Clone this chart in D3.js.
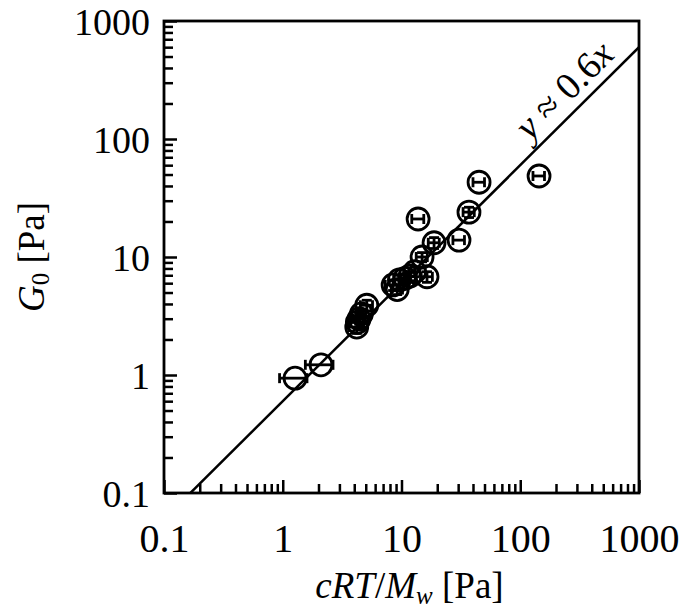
<!DOCTYPE html>
<html>
<head>
<meta charset="utf-8">
<script src="https://cdn.jsdelivr.net/npm/d3@7"></script>
<style>
  body { margin: 0; background: #fff; }
  text { font-family: "Liberation Serif", "Times New Roman", serif; fill: #000; }
</style>
</head>
<body>
<div id="chart"></div>
<script>
var margin = {top: 21, right: 41, bottom: 120, left: 164},
    width = 680 - margin.left - margin.right,
    height = 613 - margin.top - margin.bottom;

// data (Pa)
var xVals = [1.27, 2.1, 4.2, 4.25, 4.4, 4.6, 5.1, 8.5, 9.2, 9.6, 10.7, 11.8, 12.9, 14.9, 16.4, 13.8, 18.8, 30.5, 37, 45, 144];
var yVals = [0.94, 1.22, 2.55, 2.8, 3.0, 3.3, 3.9, 5.8, 5.3, 6.4, 6.6, 6.9, 7.5, 10, 6.8, 21, 13.2, 13.9, 24, 43, 48.6];
var xErr  = [0.33, 0.55, 0.6, 0.5, 0.5, 0.4, 0.6, 1.2, 1.0, 1.0, 1.2, 1.3, 1.4, 1.6, 1.8, 1.6, 2.0, 3.4, 4.0, 5.0, 16];
var yErr  = [0, 0, 0.3, 0.3, 0.3, 0.3, 0.4, 0.6, 0.5, 0.6, 0.6, 0.6, 0.7, 0.9, 0.7, 0, 1.4, 0, 2.4, 0, 0];
var xTicks = [0.1, 1, 10, 100, 1000];
var yTicks = [0.1, 1, 10, 100, 1000];
var slope = 0.6;

var svg = d3.select('#chart').append('svg')
    .attr('width', 680)
    .attr('height', 613);

var g = svg.append('g')
    .attr('transform', 'translate(' + margin.left + ',' + margin.top + ')');

var x = d3.scaleLog().domain([0.1, 1000]).range([0, width]);
var y = d3.scaleLog().domain([0.1, 1000]).range([height, 0]);

// minor ticks 2..9 for each decade
function minors(dom) {
  var out = [];
  for (var e = Math.log10(dom[0]); e < Math.log10(dom[1]); e++) {
    for (var m = 2; m <= 9; m++) out.push(m * Math.pow(10, e));
  }
  return out;
}

g.append('defs').append('clipPath').attr('id', 'clip')
  .append('rect').attr('width', width).attr('height', height);

// fit line y = 0.6 x
var line = d3.line()
  .x(function(d) { return x(d); })
  .y(function(d) { return y(slope * d); });
g.append('path')
  .datum([0.1, 1000])
  .attr('clip-path', 'url(#clip)')
  .attr('d', line)
  .attr('fill', 'none')
  .attr('stroke', '#000')
  .attr('stroke-width', 2.5);

// points with error bars
var pts = xVals.map(function(v, i) {
  return {x: v, y: yVals[i], ex: xErr[i], ey: yErr[i]};
});
var pt = g.append('g').selectAll('g').data(pts).enter().append('g')
  .attr('stroke', '#000')
  .attr('stroke-width', 2.8)
  .attr('fill', 'none');

pt.append('circle')
  .attr('cx', function(d) { return x(d.x); })
  .attr('cy', function(d) { return y(d.y); })
  .attr('r', 11);

pt.filter(function(d) { return d.ex > 0; }).each(function(d) {
  var s = d3.select(this), cy = y(d.y),
      x0 = x(d.x - d.ex), x1 = x(d.x + d.ex);
  s.append('line').attr('x1', x0).attr('x2', x1).attr('y1', cy).attr('y2', cy);
  s.append('line').attr('x1', x0).attr('x2', x0).attr('y1', cy - 5).attr('y2', cy + 5);
  s.append('line').attr('x1', x1).attr('x2', x1).attr('y1', cy - 5).attr('y2', cy + 5);
});
pt.filter(function(d) { return d.ey > 0; }).each(function(d) {
  var s = d3.select(this), cx = x(d.x),
      y0 = y(d.y - d.ey), y1 = y(d.y + d.ey);
  s.append('line').attr('x1', cx).attr('x2', cx).attr('y1', y0).attr('y2', y1);
  s.append('line').attr('x1', cx - 5).attr('x2', cx + 5).attr('y1', y0).attr('y2', y0);
  s.append('line').attr('x1', cx - 5).attr('x2', cx + 5).attr('y1', y1).attr('y2', y1);
});

// axes, ticks pointing in
var fmt = function(d) { return d < 1 ? '0.1' : d3.format('d')(d); };

var xAx = g.append('g').attr('transform', 'translate(0,' + height + ')')
  .call(d3.axisBottom(x).tickValues(xTicks).tickSize(-13).tickPadding(31).tickFormat(fmt));
g.append('g').attr('transform', 'translate(0,' + height + ')')
  .call(d3.axisBottom(x).tickValues(minors(x.domain())).tickSize(-9).tickFormat(''));
var yAx = g.append('g')
  .call(d3.axisLeft(y).tickValues(yTicks).tickSize(-13).tickPadding(14).tickFormat(fmt));
g.append('g')
  .call(d3.axisLeft(y).tickValues(minors(y.domain())).tickSize(-9).tickFormat(''));

g.selectAll('.domain').remove();
g.selectAll('.tick line').attr('stroke', '#000').attr('stroke-width', 2.5);
g.selectAll('.tick text').style('font-family', '"Liberation Serif", serif');
xAx.selectAll('.tick text').style('font-size', '40px');
yAx.selectAll('.tick text').style('font-size', '38px').attr('dy', '0.36em');

// frame
g.append('rect')
  .attr('width', width).attr('height', height)
  .attr('fill', 'none').attr('stroke', '#000').attr('stroke-width', 2.8);

// fit label
var lx = 573, ly = 99;
var lbl = svg.append('text')
  .attr('transform', 'translate(' + lx + ',' + ly + ') rotate(-44.8)')
  .attr('text-anchor', 'middle')
  .style('font-size', '38px');
lbl.append('tspan').style('font-style', 'italic').text('y');
lbl.append('tspan').text(' \u2248 0.6');
lbl.append('tspan').style('font-style', 'italic').text('x');

// axis titles
var xt = svg.append('text')
  .attr('x', margin.left + width / 2 + 8)
  .attr('y', 598)
  .attr('text-anchor', 'middle')
  .style('font-size', '37px');
xt.append('tspan').style('font-style', 'italic').text('cRT');
xt.append('tspan').text('/');
xt.append('tspan').style('font-style', 'italic').text('M');
xt.append('tspan').style('font-style', 'italic').style('font-size', '25px').attr('dy', 6).text('w');
xt.append('tspan').attr('dy', -6).text(' [Pa]');

var yt = svg.append('text')
  .attr('transform', 'translate(44,' + (margin.top + height / 2) + ') rotate(-90)')
  .attr('text-anchor', 'middle')
  .style('font-size', '37px');
yt.append('tspan').style('font-style', 'italic').text('G');
yt.append('tspan').style('font-size', '25px').attr('dy', 5).text('0');
yt.append('tspan').attr('dy', -5).text(' [Pa]');
</script>
</body>
</html>
